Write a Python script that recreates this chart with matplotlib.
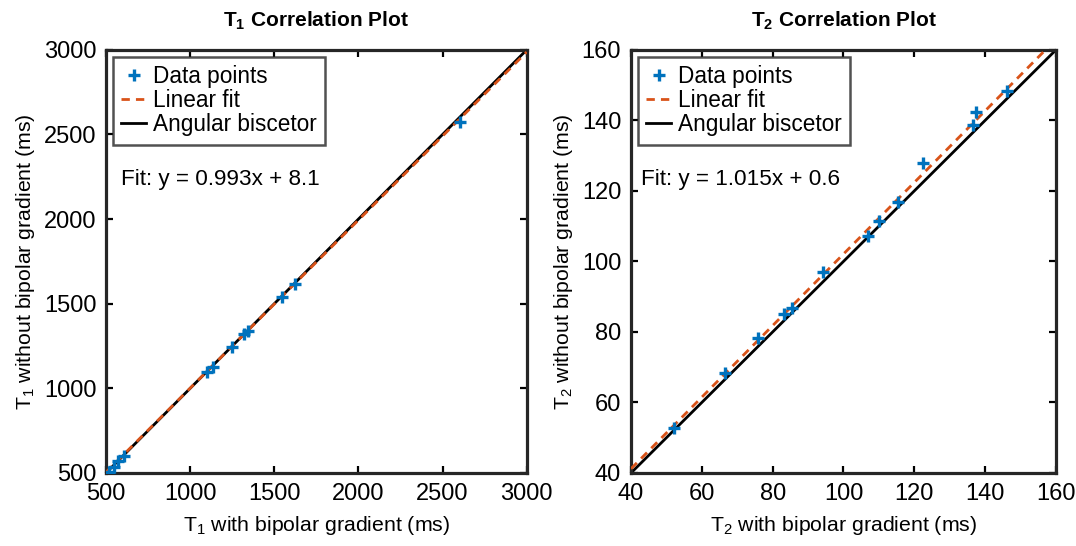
import matplotlib
matplotlib.use("Agg")
import matplotlib.pyplot as plt
import numpy as np

plt.rcParams['font.family'] = ['Liberation Sans', 'DejaVu Sans']
plt.rcParams['mathtext.fontset'] = 'custom'
plt.rcParams['mathtext.rm'] = 'Liberation Sans'
plt.rcParams['mathtext.it'] = 'Liberation Sans:italic'
plt.rcParams['mathtext.bf'] = 'Liberation Sans:bold'

# T1 measurements (ms)
t1_with = [515, 545, 572, 605, 1101, 1134, 1249, 1322, 1342, 1543, 1623, 2605]
t1_without = [508, 538, 571, 603, 1099, 1128, 1243, 1321, 1339, 1538, 1617, 2576]
t1_slope, t1_intercept = 0.993, 8.1

# T2 measurements (ms)
t2_with = [52.2, 66.5, 76.0, 83.3, 85.6, 94.1, 106.8, 109.9, 115.5, 122.4, 136.7, 137.5, 146.2]
t2_without = [52.9, 68.4, 78.3, 85.2, 86.7, 96.9, 107.2, 111.5, 116.9, 127.8, 138.6, 142.4, 148.3]
t2_slope, t2_intercept = 1.015, 0.6

t1_range = (500, 3000)
t2_range = (40, 160)
t1_ticks = [500, 1000, 1500, 2000, 2500, 3000]
t2_ticks = [40, 60, 80, 100, 120, 140, 160]

BLUE = '#0072BD'
ORANGE = '#D95319'
AXC = '#262626'

fig = plt.figure(figsize=(10.76, 5.46), dpi=100)
ax1 = fig.add_axes([0.0985, 0.1337, 0.391, 0.775])
ax2 = fig.add_axes([0.5864, 0.1337, 0.395, 0.775])


def panel(ax, x, y, slope, intercept, rng, ticks, sub, fit_x):
    xs = np.array(rng, dtype=float)
    ax.plot(x, y, '+', color=BLUE, markersize=8, markeredgewidth=2.4,
            label='Data points', zorder=4)
    ax.plot(xs, slope * xs + intercept, '--', color=ORANGE, lw=2,
            dashes=(3, 2.2), label='Linear fit', zorder=3)
    ax.plot(xs, xs, '-', color='black', lw=2, label='Angular biscetor', zorder=2)
    ax.set_xlim(rng)
    ax.set_ylim(rng)
    ax.set_xticks(ticks)
    ax.set_yticks(ticks)
    ax.tick_params(direction='in', length=5, width=1.6, top=True, right=True,
                   labelsize=17, colors='black', pad=7)
    for s in ax.spines.values():
        s.set_linewidth(2.3)
        s.set_color(AXC)
    ax.set_xlabel(r'T$_{%s}$ with bipolar gradient (ms)' % sub, fontsize=15.3, labelpad=7)
    ax.set_ylabel(r'T$_{%s}$ without bipolar gradient (ms)' % sub, fontsize=15.3, labelpad=5)
    ax.set_title(r'T$_{\mathbf{%s}}$ Correlation Plot' % sub, fontsize=15,
                 fontweight='bold', pad=17)
    leg = ax.legend(loc='upper left', fontsize=16.3, frameon=True, fancybox=False,
                    borderpad=0.38, labelspacing=0.04, handlelength=1.1,
                    handletextpad=0.3, borderaxespad=0.3,
                    bbox_to_anchor=(0.0, 1.0))
    leg.get_frame().set_edgecolor(AXC)
    leg.get_frame().set_linewidth(1.8)
    ax.text(fit_x, 0.693, 'Fit: y = %.3fx + %.1f' % (slope, intercept),
            transform=ax.transAxes, fontsize=16.2, va='center', ha='left')


panel(ax1, t1_with, t1_without, t1_slope, t1_intercept, t1_range, t1_ticks, '1', 0.035)
panel(ax2, t2_with, t2_without, t2_slope, t2_intercept, t2_range, t2_ticks, '2', 0.024)

fig.savefig('out.png', dpi=100)
